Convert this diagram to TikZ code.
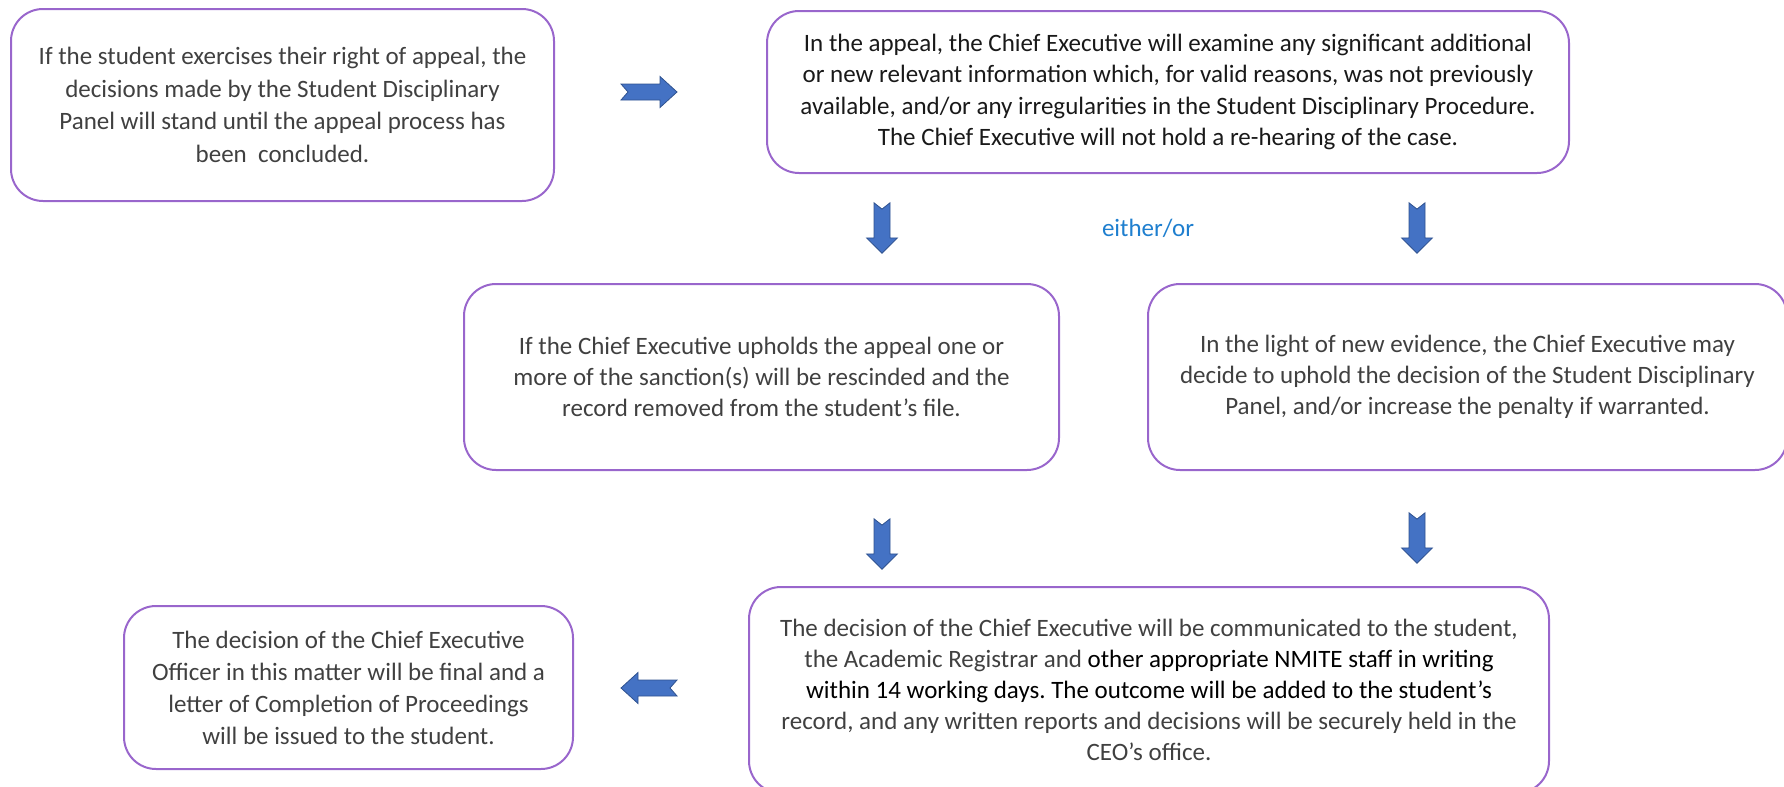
\documentclass[tikz,border=0pt]{standalone}
\usepackage{fontspec}
\setmainfont{Carlito}
\frenchspacing

\definecolor{boxline}{HTML}{9966CC}
\definecolor{txtgrey}{HTML}{404040}
\definecolor{arrowfill}{HTML}{4472C4}
\definecolor{arrowline}{HTML}{2F528F}
\definecolor{orblue}{HTML}{1F7FCF}

\tikzset{
  stage/.style={draw=boxline, line width=1pt, rounded corners=16pt, align=center,
    text=txtgrey, font=\fontsize{12.5}{15.6}\selectfont, inner sep=0pt},
  blockarrow/.pic={
    \filldraw[fill=arrowfill, draw=arrowline, line width=0.4pt]
      (-28,-8) -- (11,-8) -- (11,-15.5) -- (28,0) -- (11,15.5) -- (11,8) -- (-28,8) -- (-21,0) -- cycle;
  }
}

\begin{document}
\begin{tikzpicture}[x=0.5pt,y=-0.5pt]
  \useasboundingbox (0,0) rectangle (1784,787);

  \node[stage, minimum width=271.5pt, minimum height=96pt, font=\fontsize{12.5}{16.2}\selectfont] (appeal) at (282.5,105)
    {If the student exercises their right of appeal, the\\
     decisions made by the Student Disciplinary\\
     Panel will stand until the appeal process has\\
     been\ \ concluded.};
  \node[stage, minimum width=401pt, minimum height=81pt, text=black!90] (review) at (1168,92)
    {In the appeal, the Chief Executive will examine any significant additional\\
     or new relevant information which, for valid reasons, was not previously\\
     available, and/or any irregularities in the Student Disciplinary Procedure.\\
     The Chief Executive will not hold a re-hearing of the case.};
  \node[stage, minimum width=297.5pt, minimum height=93pt] (upheld) at (761.5,377)
    {If the Chief Executive upholds the appeal one or\\
     more of the sanction(s) will be rescinded and the\\
     record removed from the student’s file.};
  \node[stage, minimum width=319.5pt, minimum height=93pt] (increase) at (1467.5,377)
    {In the light of new evidence, the Chief Executive may\\
     decide to uphold the decision of the Student Disciplinary\\
     Panel, and/or increase the penalty if warranted.};
  \node[stage, minimum width=400pt, minimum height=103pt] (notify) at (1149,690)
    {The decision of the Chief Executive will be communicated to the student,\\
     the Academic Registrar and \textcolor{black}{other appropriate NMITE staff in writing}\\
     \color{black}within 14 working days. The outcome will be added to the student’s\\
     record, and any written reports and decisions will be securely held in the\\
     CEO’s office.};
  \node[stage, minimum width=224.5pt, minimum height=81.5pt, font=\fontsize{12.5}{16}\selectfont] (final) at (348.5,687.5)
    {The decision of the Chief Executive\\
     Officer in this matter will be final and a\\
     letter of Completion of Proceedings\\
     will be issued to the student.};

  \node[text=orblue, font=\fontsize{12.5}{15}\selectfont] (eitheror) at (1148,228) {either/or};

  \pic at (649,92) {blockarrow};
  \pic[rotate=-90, xscale=0.9] at (882,228) {blockarrow};
  \pic[rotate=-90, xscale=0.9] at (1417,228) {blockarrow};
  \pic[rotate=-90, xscale=0.9] at (882,544) {blockarrow};
  \pic[rotate=-90, xscale=0.9] at (1417,538) {blockarrow};
  \pic[rotate=180] at (649,688) {blockarrow};
\end{tikzpicture}
\end{document}
